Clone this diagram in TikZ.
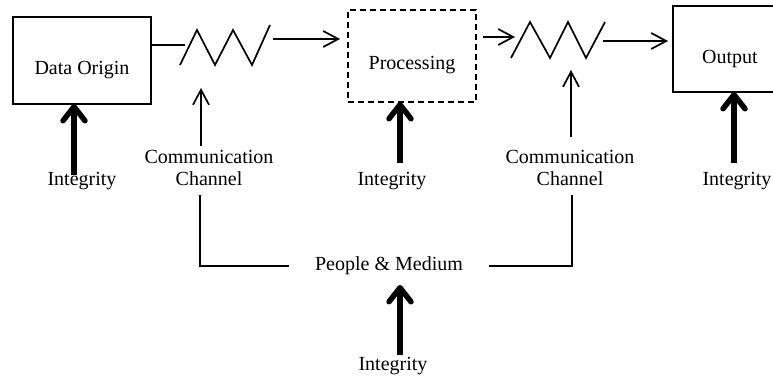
\documentclass[tikz,border=0pt]{standalone}
\usepackage{fontspec}
\setmainfont{Liberation Serif}
\usetikzlibrary{arrows.meta}
\begin{document}
\begin{tikzpicture}[x=1pt,y=-1pt,
  every node/.style={font=\fontsize{20}{22}\selectfont, inner sep=0pt, outer sep=0pt},
  thinline/.style={line width=1.7pt},
  thinarrow/.style={line width=1.7pt, -{Straight Barb[length=15pt,width=16pt,line width=1.7pt]}},
  thickarrow/.style={line width=5.5pt, -{Straight Barb[length=14pt,width=22pt,line width=5.5pt,round]}},
  box/.style={draw, line width=1.7pt},
  dbox/.style={draw, line width=1.7pt, dash pattern=on 6pt off 4pt},
  lbl/.style={anchor=base}]
\useasboundingbox (0,0) rectangle (773,377);
\clip (0,0) rectangle (773,377);

% boxes
\node[box, minimum width=138pt, minimum height=87pt, text height=30pt, text depth=1pt] (origin) at (82,60.5) {Data Origin};
\node[dbox, minimum width=128pt, minimum height=92pt, text height=30pt, text depth=2pt] (proc) at (412,56) {Processing};
\node[box, minimum width=114pt, minimum height=86pt, text height=32pt, text depth=2pt] (out) at (730,49) {Output};

% zigzag 1
\coordinate (z1in) at (185,45);
\coordinate (z1a) at (180,65);
\coordinate (z1b) at (197,30);
\coordinate (z1c) at (215,65);
\coordinate (z1d) at (233,30);
\coordinate (z1e) at (252,65);
\coordinate (z1f) at (270,25);
\coordinate (z1out) at (273,39);
\draw[thinline] (origin.east |- z1in) -- (z1in);
\draw[thinline, line join=miter] (z1a) -- (z1b) -- (z1c) -- (z1d) -- (z1e) -- (z1f);
\draw[thinarrow] (z1out) -- ([xshift=-8pt]z1out -| proc.west);

% zigzag 2
\coordinate (z2in) at (483,37);
\coordinate (z2tip) at (515,37);
\coordinate (z2a) at (511,58);
\coordinate (z2b) at (530,22);
\coordinate (z2c) at (550,58);
\coordinate (z2d) at (568,22);
\coordinate (z2e) at (586,58);
\coordinate (z2f) at (605,22);
\coordinate (z2out) at (603,41);
\draw[thinarrow] (z2in) -- (z2tip);
\draw[thinline, line join=miter] (z2a) -- (z2b) -- (z2c) -- (z2d) -- (z2e) -- (z2f);
\draw[thinarrow] (z2out) -- ([xshift=-5pt]z2out -| out.west);

% people & medium
\node[inner xsep=26pt, anchor=base] (pm) at (389,270) {People \& Medium};

% integrity labels and thick arrows
\node[lbl] (int1) at (82,185) {Integrity};
\node[lbl] (int2) at (392,185) {Integrity};
\node[lbl] (int3) at (737,185) {Integrity};
\node[lbl] (int4) at (393,370) {Integrity};
\coordinate (t1) at (74,175);
\coordinate (t2) at (400,163);
\coordinate (t3) at (734,163);
\coordinate (t4) at (400,355);
\coordinate (t4tip) at (400,285);
\draw[thickarrow] (t1) -- (t1 |- origin.south);
\draw[thickarrow] (t2) -- (t2 |- proc.south);
\draw[thickarrow] (t3) -- (t3 |- out.south);
\draw[thickarrow] (t4) -- (t4tip);

% communication channels
\node[align=center, anchor=base] (cc1) at (209,185) {Communication\\Channel};
\node[align=center, anchor=base] (cc2) at (570,185) {Communication\\Channel};
\coordinate (cc1up) at (201,146);
\coordinate (cc1tip) at (201,88);
\coordinate (cc2up) at (571,137);
\coordinate (cc2tip) at (571,70);
\draw[thinarrow] (cc1up) -- (cc1tip);
\draw[thinarrow] (cc2up) -- (cc2tip);

\coordinate (cc1dn) at (200,195);
\coordinate (cc2dn) at (572,195);
\draw[thinline] (cc1dn) |- (pm.west |- 0,266);
\draw[thinline] (cc2dn) |- (pm.east |- 0,266);
\end{tikzpicture}
\end{document}
